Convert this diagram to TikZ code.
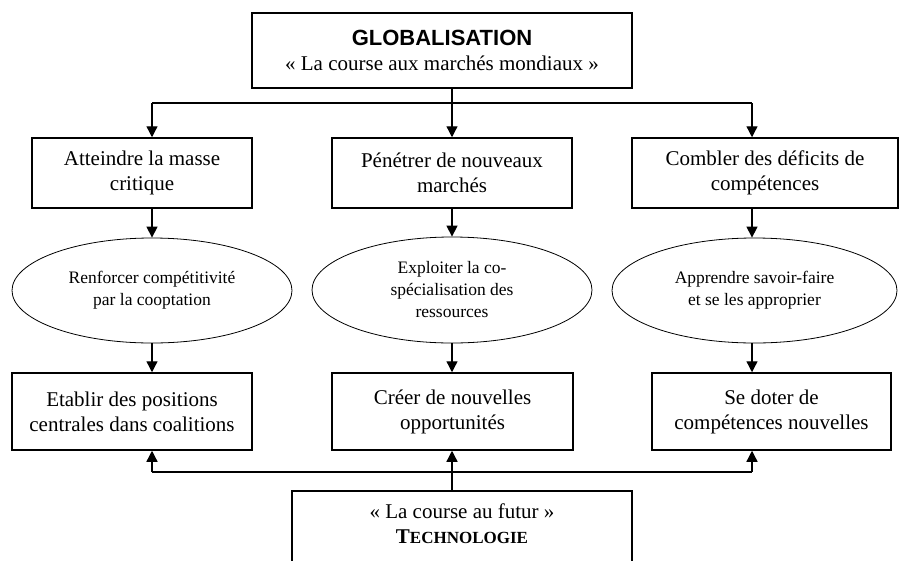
\documentclass[tikz,border=0pt]{standalone}
\usepackage{fontspec}
\setmainfont{Liberation Serif}
\newfontfamily\headfont{Liberation Sans}
\usetikzlibrary{arrows.meta,shapes.geometric}

\tikzset{
  box/.style={draw, line width=1.5pt, align=center, inner sep=2pt, font=\fontsize{21}{25}\selectfont},
  oval/.style={draw, ellipse, line width=0.8pt, align=center, inner sep=0pt, font=\fontsize{17.5}{22}\selectfont},
  link/.style={line width=1.3pt},
  arr/.style={link, -{Triangle[length=11pt,width=11pt]}}
}

\begin{document}
\begin{tikzpicture}[x=1pt,y=-1pt]
    \useasboundingbox (0,0) rectangle (899,560);
    % Draw the top box
    \node[box, minimum width=380pt, minimum height=75pt] (global) at (442,50.5)
      {{\headfont\bfseries\fontsize{22}{24}\selectfont GLOBALISATION}\\« La course aux marchés mondiaux »};
    % Draw the three goals
    \node[box, minimum width=220pt, minimum height=70pt] (atteindre) at (142,173) {Atteindre la masse\\critique};
    \node[box, minimum width=240pt, minimum height=70pt] (penetrer) at (452,173) {Pénétrer de nouveaux\\marchés};
    \node[box, minimum width=266pt, minimum height=70pt] (combler) at (765,173) {Combler des déficits de\\compétences};
    % Draw the ellipses
    \node[oval, minimum width=280pt, minimum height=105pt] (renforcer) at (152,290.5) {Renforcer compétitivité\\par la cooptation};
    \node[oval, minimum width=280pt, minimum height=106pt] (exploiter) at (452,290) {Exploiter la co-\\spécialisation des\\ressources};
    \node[oval, minimum width=285pt, minimum height=105pt] (apprendre) at (754.5,290.5) {Apprendre savoir-faire\\et se les approprier};
    % Draw the results
    \node[box, minimum width=240pt, minimum height=77pt] (etablir) at (132,411.5) {Etablir des positions\\centrales dans coalitions};
    \node[box, minimum width=241pt, minimum height=77pt] (creer) at (452.5,411.5) {Créer de nouvelles\\opportunités};
    \node[box, minimum width=239pt, minimum height=77pt] (doter) at (771.5,411.5) {Se doter de\\compétences nouvelles};
    % Draw the bottom box
    \node[box, anchor=north, minimum width=340pt, inner ysep=13pt, text depth=30pt] (techno) at (462,490)
      {« La course au futur »\\{\bfseries T\fontsize{17}{25}\selectfont ECHNOLOGIE}};
    % Draw the links from the top
    \coordinate (c1) at (152,103);
    \coordinate (c2) at (452,103);
    \coordinate (c3) at (752,103);
    \draw[link] (c1) -- (c3);
    \draw[link] (global.south -| c2) -- (c2);
    \foreach \n/\c in {atteindre/c1, penetrer/c2, combler/c3}{
      \draw[arr] (\c) -- (\c |- \n.north);
    }
    \foreach \a/\b/\c in {atteindre/renforcer/c1, penetrer/exploiter/c2, combler/apprendre/c3,
                          renforcer/etablir/c1, exploiter/creer/c2, apprendre/doter/c3}{
      \draw[arr] (\c |- \a.south) -- (\c |- \b.north);
    }
    % Draw the links from the bottom
    \coordinate (d1) at (152,472);
    \coordinate (d2) at (452,472);
    \coordinate (d3) at (752,472);
    \draw[link] (d1) -- (d3);
    \draw[link] (techno.north -| d2) -- (d2);
    \foreach \n/\d in {etablir/d1, creer/d2, doter/d3}{
      \draw[arr] (\d) -- (\d |- \n.south);
    }
\end{tikzpicture}
\end{document}
